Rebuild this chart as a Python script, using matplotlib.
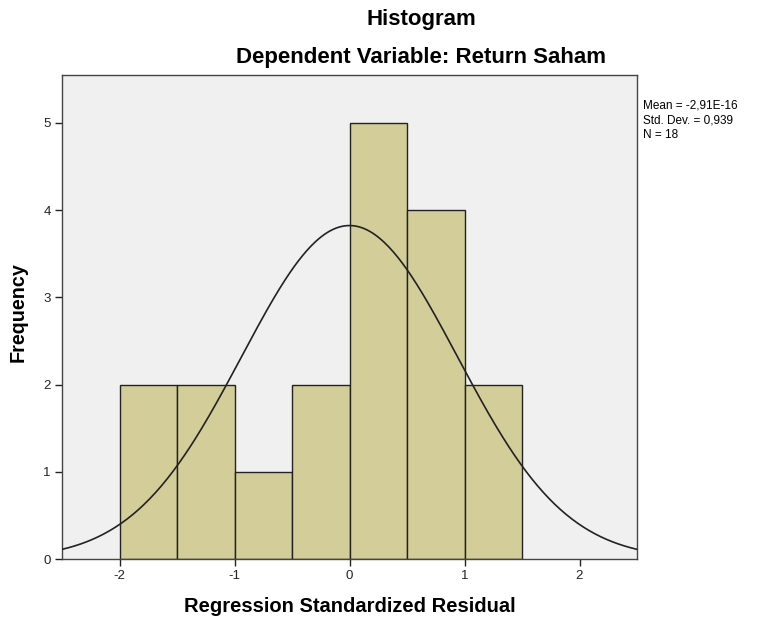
import numpy as np
import matplotlib.pyplot as plt

plt.rcParams['font.family'] = ['Liberation Sans', 'DejaVu Sans']
plt.rcParams['axes.unicode_minus'] = False

# histogram data
bin_edges = [-2.0, -1.5, -1.0, -0.5, 0.0, 0.5, 1.0, 1.5]
counts = [2, 2, 1, 2, 5, 4, 2]

# summary statistics shown at the right
mean = -2.91e-16
std = 0.939
n = 18

fig = plt.figure(figsize=(7.67, 6.21), dpi=100)
ax = fig.add_axes([62 / 767, 62 / 621, 575 / 767, 484 / 621])
ax.set_facecolor('#f0f0f0')

lefts = bin_edges[:-1]
widths = np.diff(bin_edges)
ax.bar(lefts, counts, width=widths, align='edge', color='#d3ce99',
       edgecolor='#222222', linewidth=1.0, zorder=2)

# normal curve scaled to counts
bw = widths[0]
xs = np.linspace(-2.5, 2.5, 400)
ys = n * bw / (std * np.sqrt(2 * np.pi)) * np.exp(-0.5 * ((xs - mean) / std) ** 2)
ax.plot(xs, ys, color='#222222', lw=1.2, zorder=3)

ax.set_xlim(-2.5, 2.5)
ax.set_ylim(0, 5.55)
ax.set_xticks([-2, -1, 0, 1, 2])
ax.set_yticks([0, 1, 2, 3, 4, 5])
ax.tick_params(direction='out', length=5, width=1, labelsize=9.5, colors='#222222',
               pad=3)
for s in ax.spines.values():
    s.set_color('#444444')
    s.set_linewidth(1.0)

ax.set_xlabel('Regression Standardized Residual', fontsize=14.5, fontweight='bold',
              labelpad=11)
ax.set_ylabel('Frequency', fontsize=14.2, fontweight='bold')
ax.yaxis.set_label_coords(-0.06, 0.51)

fig.text(421 / 767, 1 - 19 / 621, 'Histogram', ha='center', va='center',
         fontsize=16, fontweight='bold')
fig.text(421 / 767, 1 - 58 / 621, 'Dependent Variable: Return Saham', ha='center',
         va='center', fontsize=16, fontweight='bold')

fig.text(643 / 767, 1 - 99 / 621,
         'Mean = -2,91E-16\nStd. Dev. = 0,939\nN = 18',
         ha='left', va='top', fontsize=8.5, linespacing=1.35)

fig.savefig('out.png', dpi=100)
